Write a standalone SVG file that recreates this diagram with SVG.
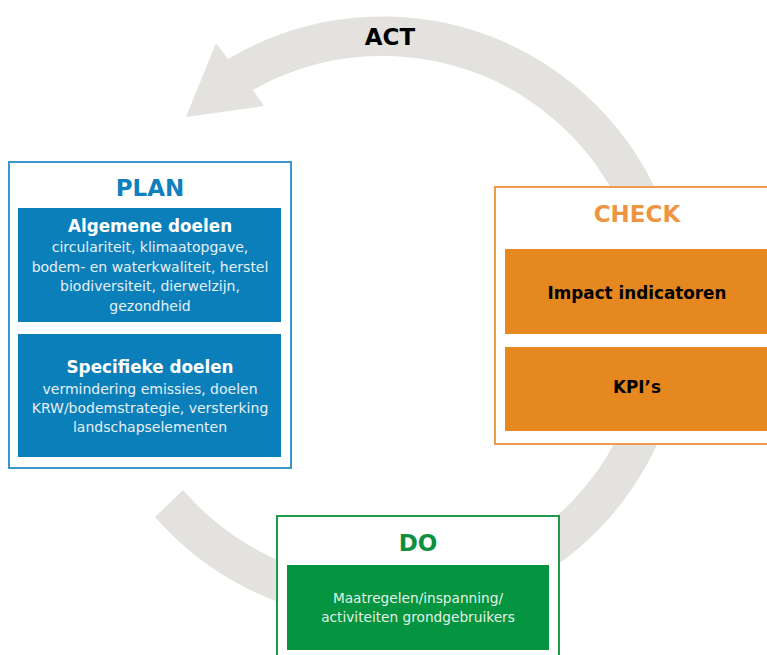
<svg xmlns="http://www.w3.org/2000/svg" width="767" height="655" viewBox="0 0 767 655">
<style>
text{font-family:"DejaVu Sans","Liberation Sans",sans-serif;text-anchor:middle}
.h{font-size:23px;font-weight:bold}
.t{font-size:16.8px;font-weight:bold}
.b{font-size:14px}
.frame{fill:#ffffff;stroke-width:2}
</style>
<rect width="767" height="655" fill="#ffffff"/>
<g id="connectors">
<path id="act-arrow" d="M155,517 A302,302 0 1 0 228,59 L216,43 L186,117 L264,106 L253,90 A263,263 0 1 1 183,490 Z" fill="#e3e2de"/>
<text x="390" y="45" style="font-size:23px;font-weight:bold" fill="#000000">ACT</text>
</g>
<g id="plan">
<rect class="frame" x="9" y="162" width="282" height="306" stroke="#3a96cc"/>
<text class="h" x="150" y="196" fill="#0e80bd">PLAN</text>
<rect x="18" y="208" width="263" height="114" fill="#0b7fba"/>
<text class="t" x="150" y="232" fill="#ffffff">Algemene doelen</text>
<text class="b" x="150" y="252" fill="#e6f0f7">circulariteit, klimaatopgave,</text>
<text class="b" x="150" y="271.5" fill="#e6f0f7">bodem- en waterkwaliteit, herstel</text>
<text class="b" x="150" y="291" fill="#e6f0f7">biodiversiteit, dierwelzijn,</text>
<text class="b" x="150" y="311" fill="#e6f0f7">gezondheid</text>
<rect x="18" y="334" width="263" height="123" fill="#0b7fba"/>
<text class="t" x="150" y="373" fill="#ffffff">Specifieke doelen</text>
<text class="b" x="150" y="393.5" fill="#e6f0f7">vermindering emissies, doelen</text>
<text class="b" x="150" y="413" fill="#e6f0f7">KRW/bodemstrategie, versterking</text>
<text class="b" x="150" y="432" fill="#e6f0f7">landschapselementen</text>
</g>
<g id="check">
<rect class="frame" x="495" y="187" width="290" height="257" stroke="#ef9b4c"/>
<text class="h" x="637" y="222" fill="#ee9541">CHECK</text>
<rect x="505" y="249" width="270" height="85" fill="#e4881f"/>
<text class="t" x="637" y="299" fill="#000000">Impact indicatoren</text>
<rect x="505" y="347" width="270" height="84" fill="#e4881f"/>
<text class="t" x="637" y="393" fill="#000000">KPI’s</text>
</g>
<g id="do">
<rect class="frame" x="277" y="516" width="282" height="150" stroke="#1f9a4a"/>
<text class="h" x="418" y="551" fill="#0e9040">DO</text>
<rect x="287" y="565" width="262" height="85" fill="#05943f"/>
<text class="b" x="418" y="603" style="font-size:13.7px" fill="#e2f2e7">Maatregelen/inspanning/</text>
<text class="b" x="418" y="622" style="font-size:13.7px" fill="#e2f2e7">activiteiten grondgebruikers</text>
</g>
</svg>
